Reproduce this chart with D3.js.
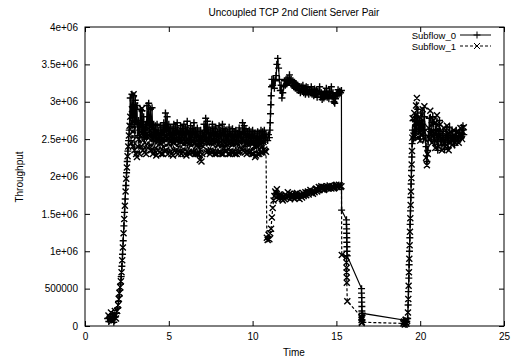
<!DOCTYPE html>
<html lang="en">
<head>
<meta charset="utf-8">
<script src="https://d3js.org/d3.v7.min.js"></script>
<style>
  body { margin: 0; background: #fff; }
  svg text { font-family: "Liberation Sans", Arial, sans-serif; font-size: 10px; fill: #000; }
</style>
</head>
<body>
<script>
// throughput in units of 1e6, time in seconds
const xTicks = [0, 5, 10, 15, 20, 25];
const yTicks = [0, 0.5, 1, 1.5, 2, 2.5, 3, 3.5, 4];
const yTickLabels = ["0", "500000", "1e+06", "1.5e+06", "2e+06", "2.5e+06", "3e+06", "3.5e+06", "4e+06"];
const seriesNames = ["Subflow_0", "Subflow_1"];

// sample times of the three steady phases
const timeA = [
  2.7,2.75,2.8,2.85,2.9,2.95,3,3.05,3.1,3.15,
  3.2,3.25,3.3,3.35,3.4,3.45,3.5,3.55,3.6,3.65,
  3.7,3.75,3.8,3.85,3.9,3.95,4,4.05,4.1,4.15,
  4.2,4.25,4.3,4.35,4.4,4.45,4.5,4.55,4.6,4.65,
  4.7,4.75,4.8,4.85,4.9,4.95,5,5.05,5.1,5.15,
  5.2,5.25,5.3,5.35,5.4,5.45,5.5,5.55,5.6,5.65,
  5.7,5.75,5.8,5.85,5.9,5.95,6,6.05,6.1,6.15,
  6.2,6.25,6.3,6.35,6.4,6.45,6.5,6.55,6.6,6.65,
  6.7,6.75,6.8,6.85,6.9,6.95,7,7.05,7.1,7.15,
  7.2,7.25,7.3,7.35,7.4,7.45,7.5,7.55,7.6,7.65,
  7.7,7.75,7.8,7.85,7.9,7.95,8,8.05,8.1,8.15,
  8.2,8.25,8.3,8.35,8.4,8.45,8.5,8.55,8.6,8.65,
  8.7,8.75,8.8,8.85,8.9,8.95,9,9.05,9.1,9.15,
  9.2,9.25,9.3,9.35,9.4,9.45,9.5,9.55,9.6,9.65,
  9.7,9.75,9.8,9.85,9.9,9.95,10,10.05,10.1,10.15,
  10.2,10.25,10.3,10.35,10.4,10.45,10.5,10.55,10.6,10.65,
  10.7,10.75,10.8];
const timeB = [
  10.85,10.9,10.95,11,11.05,11.1,11.15,11.2,11.25,11.3,
  11.35,11.4,11.45,11.5,11.55,11.6,11.65,11.7,11.75,11.8,
  11.85,11.9,11.95,12,12.05,12.1,12.15,12.2,12.25,12.3,
  12.35,12.4,12.45,12.5,12.55,12.6,12.65,12.7,12.75,12.8,
  12.85,12.9,12.95,13,13.05,13.1,13.15,13.2,13.25,13.3,
  13.35,13.4,13.45,13.5,13.55,13.6,13.65,13.7,13.75,13.8,
  13.85,13.9,13.95,14,14.05,14.1,14.15,14.2,14.25,14.3,
  14.35,14.4,14.45,14.5,14.55,14.6,14.65,14.7,14.75,14.8,
  14.85,14.9,14.95,15,15.05,15.1,15.15,15.2,15.25,15.3];
const timeD = [
  19.6,19.65,19.7,19.75,19.8,19.85,19.9,19.95,20,20.05,
  20.1,20.15,20.2,20.25,20.3,20.35,20.4,20.45,20.5,20.55,
  20.6,20.65,20.7,20.75,20.8,20.85,20.9,20.95,21,21.05,
  21.1,21.15,21.2,21.25,21.3,21.35,21.4,21.45,21.5,21.55,
  21.6,21.65,21.7,21.75,21.8,21.85,21.9,21.95,22,22.05,
  22.1,22.15,22.2,22.25,22.3,22.35,22.4,22.45,22.5,22.55,
  22.6];

// Subflow_0
const sub0Ramp1 = [[1.35,0.10],[1.42,0.06],[1.5,0.13],[1.58,0.08],[1.65,0.16],[1.72,0.05],[1.8,0.12],[1.88,0.17],[1.95,0.24],[2.0,0.33],[2.04,0.4],[2.08,0.48],[2.12,0.56],[2.16,0.66],[2.2,0.8],[2.24,0.96],[2.28,1.14],[2.32,1.34],[2.36,1.52],[2.4,1.7],[2.44,1.88],[2.48,2.05],[2.52,2.2],[2.56,2.34],[2.6,2.48],[2.64,2.62]];
const sub0BandA = [
  3.05,2.7,3.1,2.75,3.08,2.62,3.02,2.7,2.95,2.55,
  2.75,2.52,2.9,2.6,2.88,2.56,2.8,2.5,2.7,2.55,
  2.95,2.62,2.98,2.58,2.9,2.55,2.92,2.5,2.7,2.56,
  2.68,2.48,2.7,2.5,2.62,2.45,2.68,2.52,2.66,2.48,
  2.72,2.5,2.85,2.55,2.8,2.5,2.7,2.52,2.66,2.46,
  2.64,2.5,2.7,2.48,2.66,2.52,2.72,2.46,2.62,2.5,
  2.68,2.48,2.64,2.52,2.7,2.45,2.66,2.5,2.74,2.48,
  2.62,2.5,2.68,2.46,2.64,2.52,2.72,2.48,2.62,2.5,
  2.65,2.42,2.6,2.4,2.62,2.44,2.58,2.46,2.7,2.5,
  2.78,2.52,2.74,2.48,2.66,2.5,2.62,2.46,2.7,2.5,
  2.64,2.48,2.66,2.5,2.6,2.46,2.68,2.5,2.62,2.46,
  2.7,2.5,2.64,2.48,2.62,2.45,2.6,2.48,2.66,2.5,
  2.6,2.48,2.64,2.44,2.6,2.46,2.62,2.5,2.58,2.48,
  2.65,2.5,2.6,2.48,2.72,2.52,2.68,2.46,2.64,2.5,
  2.6,2.48,2.62,2.44,2.6,2.46,2.62,2.48,2.58,2.45,
  2.58,2.44,2.6,2.42,2.58,2.46,2.62,2.48,2.6,2.46,
  2.62,2.48,2.58];
const sub0Rise = [[10.85,2.52],[10.9,2.48],[10.95,2.56],[11.0,2.52],[11.03,2.62],[11.05,2.72],[11.07,2.84],[11.09,2.96],[11.11,3.08],[11.13,3.2]];
const sub0BandB = [
  3.3,3.22,3.3,3.18,3.28,3.35,3.5,3.58,3.45,3.3,
  3.15,3.22,3.05,3.12,3.2,3.28,3.22,3.3,3.24,3.32,
  3.26,3.36,3.28,3.3,3.22,3.28,3.2,3.26,3.18,3.24,
  3.16,3.22,3.15,3.2,3.12,3.2,3.14,3.22,3.12,3.18,
  3.1,3.2,3.12,3.19,3.1,3.16,3.12,3.2,3.1,3.16,
  3.08,3.17,3.1,3.15,3.06,3.14,3.1,3.2,3.06,3.12,
  3.03,3.1,3.05,3.14,3.08,3.18,3.06,3.12,3.04,3.14,
  3.08,3.2,3.06,3.12,3.0,2.98,3.04,3.1,3.08,3.16,
  3.1,3.14,3.12,3.15];
const sub0Fall = [[15.31,1.55],[15.6,1.42],[15.6,1.36],[15.61,1.3],[15.61,1.24],[15.62,1.18],[15.62,1.12],[15.63,1.06],[15.63,1.0],[15.64,0.94],[16.5,0.5],[16.5,0.44],[16.51,0.38],[16.51,0.32],[16.52,0.26],[16.52,0.2],[16.53,0.14],[16.53,0.08],[16.54,0.17],[19.0,0.08]];
const sub0Ramp3 = [[19.05,0.03],[19.1,0.07],[19.15,0.02],[19.2,0.06],[19.25,0.1],[19.28,0.28],[19.3,0.46],[19.32,0.64],[19.34,0.82],[19.36,1.0],[19.38,1.18],[19.4,1.36],[19.42,1.54],[19.44,1.72],[19.46,1.9],[19.48,2.08],[19.5,2.26],[19.52,2.44],[19.54,2.62]];
const sub0BandD = [
  2.5,2.75,2.52,2.8,2.6,2.9,2.6,2.75,2.5,2.85,
  2.62,2.7,2.5,2.8,2.55,2.4,2.2,2.35,2.55,2.78,
  2.6,2.5,2.72,2.8,2.55,2.45,2.62,2.7,2.5,2.35,
  2.6,2.75,2.5,2.42,2.55,2.6,2.45,2.36,2.5,2.62,
  2.5,2.38,2.55,2.66,2.5,2.45,2.6,2.55,2.48,2.42,
  2.55,2.62,2.5,2.48,2.58,2.58,2.5,2.52,2.62,2.68,
  2.56];

// Subflow_1
const sub1Ramp1 = [[1.4,0.14],[1.48,0.09],[1.55,0.18],[1.62,0.07],[1.7,0.12],[1.78,0.2],[1.85,0.1],[1.92,0.2],[1.98,0.28],[2.02,0.36],[2.06,0.44],[2.1,0.52],[2.14,0.6],[2.18,0.72],[2.22,0.88],[2.26,1.05],[2.3,1.24],[2.34,1.43],[2.38,1.61],[2.42,1.8],[2.46,1.97],[2.5,2.12],[2.54,2.27],[2.58,2.4],[2.62,2.55],[2.66,2.68]];
const sub1BandA = [
  2.8,2.45,2.9,2.4,3.1,2.35,2.95,2.3,2.26,2.4,
  2.5,2.3,2.6,2.4,2.91,2.35,2.6,2.32,2.55,2.3,
  2.7,2.38,2.55,2.4,2.62,2.35,2.55,2.3,2.5,2.34,
  2.55,2.28,2.5,2.35,2.5,2.32,2.45,2.3,2.48,2.3,
  2.5,2.34,2.55,2.35,2.62,2.3,2.5,2.32,2.48,2.3,
  2.48,2.28,2.45,2.34,2.5,2.32,2.48,2.3,2.5,2.33,
  2.46,2.3,2.48,2.33,2.5,2.3,2.48,2.28,2.45,2.32,
  2.48,2.3,2.45,2.32,2.48,2.32,2.44,2.3,2.46,2.3,
  2.42,2.3,2.45,2.22,2.36,2.2,2.3,2.4,2.48,2.55,
  2.5,2.32,2.46,2.34,2.5,2.3,2.46,2.32,2.5,2.33,
  2.45,2.3,2.46,2.3,2.48,2.32,2.44,2.33,2.46,2.3,
  2.44,2.3,2.46,2.34,2.45,2.34,2.42,2.3,2.44,2.3,
  2.45,2.32,2.46,2.32,2.48,2.3,2.45,2.3,2.44,2.32,
  2.46,2.33,2.55,2.36,2.5,2.34,2.46,2.32,2.44,2.3,
  2.44,2.32,2.46,2.32,2.45,2.3,2.44,2.3,2.4,2.26,
  2.28,2.4,2.3,2.42,2.3,2.44,2.32,2.45,2.32,2.46,
  2.36,2.34,2.33];
const sub1BandB = [
  1.18,1.15,1.22,1.16,1.24,1.3,1.45,1.58,1.68,1.74,
  1.8,1.78,1.83,1.74,1.7,1.76,1.72,1.75,1.7,1.68,
  1.74,1.7,1.76,1.72,1.74,1.79,1.73,1.77,1.7,1.72,
  1.76,1.72,1.75,1.7,1.77,1.74,1.78,1.72,1.75,1.7,
  1.74,1.76,1.72,1.78,1.74,1.76,1.79,1.75,1.78,1.8,
  1.76,1.79,1.82,1.78,1.8,1.77,1.81,1.79,1.83,1.84,
  1.8,1.82,1.86,1.82,1.85,1.87,1.83,1.86,1.82,1.83,
  1.86,1.84,1.87,1.84,1.86,1.88,1.85,1.84,1.87,1.87,
  1.84,1.85,1.88,1.89,1.86,1.86,1.89,1.88,1.86,1.87];
const sub1Fall = [[15.32,0.95],[15.6,0.92],[15.6,0.85],[15.61,0.78],[15.61,0.72],[15.62,0.65],[15.62,0.58],[15.65,0.33],[16.5,0.12],[16.5,0.08],[16.51,0.04],[16.52,0.1],[16.52,0.05],[19.0,0.035]];
const sub1Ramp3 = [[19.03,0.06],[19.08,0.02],[19.13,0.08],[19.18,0.03],[19.22,0.07],[19.27,0.18],[19.29,0.36],[19.31,0.54],[19.33,0.72],[19.35,0.9],[19.37,1.08],[19.39,1.26],[19.41,1.44],[19.43,1.62],[19.45,1.8],[19.47,1.98],[19.49,2.16],[19.51,2.34],[19.53,2.52],[19.55,2.78]];
const sub1BandD = [
  2.55,2.85,2.6,2.95,3.05,2.7,2.52,2.8,2.48,2.72,
  2.55,2.9,2.6,2.94,2.5,2.25,2.15,2.3,2.65,2.5,
  2.88,2.6,2.45,2.6,2.75,2.5,2.38,2.6,2.82,2.55,
  2.4,2.55,2.7,2.5,2.35,2.5,2.65,2.45,2.4,2.55,
  2.68,2.5,2.35,2.45,2.6,2.5,2.42,2.5,2.62,2.5,
  2.45,2.52,2.6,2.5,2.45,2.55,2.65,2.55,2.5,2.6,
  2.66];

const pair = (times, vals) => times.map((t, i) => [t, vals[i]]);
const timeB0 = timeB.slice(6); // Subflow_0 steady phase starts at 11.15 s

const subflow0 = [].concat(sub0Ramp1, pair(timeA, sub0BandA), sub0Rise, pair(timeB0, sub0BandB),
  sub0Fall, sub0Ramp3, pair(timeD, sub0BandD));
const subflow1 = [].concat(sub1Ramp1, pair(timeA, sub1BandA), pair(timeB, sub1BandB),
  sub1Fall, sub1Ramp3, pair(timeD, sub1BandD));

// layout
const W = 515, H = 364;
const plotLeft = 85, plotRight = 504, plotTop = 27, plotBottom = 326;

const svg = d3.select("body").append("svg")
  .attr("width", W)
  .attr("height", H);

svg.append("rect").attr("width", W).attr("height", H).attr("fill", "#fff");

const x = d3.scaleLinear().domain([0, 25]).range([plotLeft, plotRight]);
const y = d3.scaleLinear().domain([0, 4]).range([plotBottom, plotTop]);

// axes with inward ticks, mirrored on top and right
function styleAxis(g) {
  g.select(".domain").remove();
  g.selectAll(".tick line").attr("stroke", "#000");
  g.selectAll("text").attr("font-family", null).attr("font-size", null);
}

svg.append("g")
  .attr("transform", "translate(0," + plotBottom + ")")
  .call(d3.axisBottom(x).tickValues(xTicks).tickSizeInner(-5).tickSizeOuter(0).tickPadding(7))
  .call(styleAxis);

svg.append("g")
  .attr("transform", "translate(0," + plotTop + ")")
  .call(d3.axisTop(x).tickValues(xTicks).tickSizeInner(-5).tickSizeOuter(0).tickFormat(""))
  .call(styleAxis);

svg.append("g")
  .attr("transform", "translate(" + plotLeft + ",0)")
  .call(d3.axisLeft(y).tickValues(yTicks).tickSizeInner(-5).tickSizeOuter(0).tickPadding(7)
    .tickFormat((d, i) => yTickLabels[i]))
  .call(styleAxis);

svg.append("g")
  .attr("transform", "translate(" + plotRight + ",0)")
  .call(d3.axisRight(y).tickValues(yTicks).tickSizeInner(-5).tickSizeOuter(0).tickFormat(""))
  .call(styleAxis);

// frame
svg.append("rect")
  .attr("x", plotLeft).attr("y", plotTop)
  .attr("width", plotRight - plotLeft).attr("height", plotBottom - plotTop)
  .attr("fill", "none").attr("stroke", "#000").attr("stroke-width", 1);

// titles
svg.append("text").attr("x", 294).attr("y", 16).attr("text-anchor", "middle")
  .text("Uncoupled TCP 2nd Client Server Pair");
svg.append("text").attr("x", 294).attr("y", 356).attr("text-anchor", "middle").text("Time");
svg.append("text").attr("transform", "translate(23,177) rotate(-90)").attr("text-anchor", "middle")
  .text("Throughput");

// marker paths
const plus = (px, py) => `M${px - 3.5},${py}H${px + 3.5}M${px},${py - 3.5}V${py + 3.5}`;
const cross = (px, py) => `M${px - 3},${py - 3}L${px + 3},${py + 3}M${px + 3},${py - 3}L${px - 3},${py + 3}`;

const line = d3.line().x(d => x(d[0])).y(d => y(d[1]));

const plot = svg.append("g");

// Subflow_1 (dashed, x markers)
plot.append("path").datum(subflow1)
  .attr("d", line).attr("fill", "none").attr("stroke", "#000")
  .attr("stroke-width", 1.2).attr("stroke-dasharray", "3,2");
plot.append("path")
  .attr("d", subflow1.map(d => cross(x(d[0]), y(d[1]))).join(""))
  .attr("fill", "none").attr("stroke", "#000").attr("stroke-width", 1.4);

// Subflow_0 (solid, + markers)
plot.append("path").datum(subflow0)
  .attr("d", line).attr("fill", "none").attr("stroke", "#000").attr("stroke-width", 1.2);
plot.append("path")
  .attr("d", subflow0.map(d => plus(x(d[0]), y(d[1]))).join(""))
  .attr("fill", "none").attr("stroke", "#000").attr("stroke-width", 1.4);

// legend
const legend = svg.append("g");
seriesNames.forEach((name, i) => {
  const ly = 35 + i * 11;
  legend.append("text").attr("x", 456).attr("y", ly + 3.5).attr("text-anchor", "end")
    .style("font-size", "9.5px").text(name);
  legend.append("line").attr("x1", 460).attr("x2", 491).attr("y1", ly).attr("y2", ly)
    .attr("stroke", "#000").attr("stroke-width", 1)
    .attr("stroke-dasharray", i === 0 ? null : "3,2");
  legend.append("path").attr("d", i === 0 ? plus(477, ly) : cross(477, ly))
    .attr("fill", "none").attr("stroke", "#000");
});
</script>
</body>
</html>
